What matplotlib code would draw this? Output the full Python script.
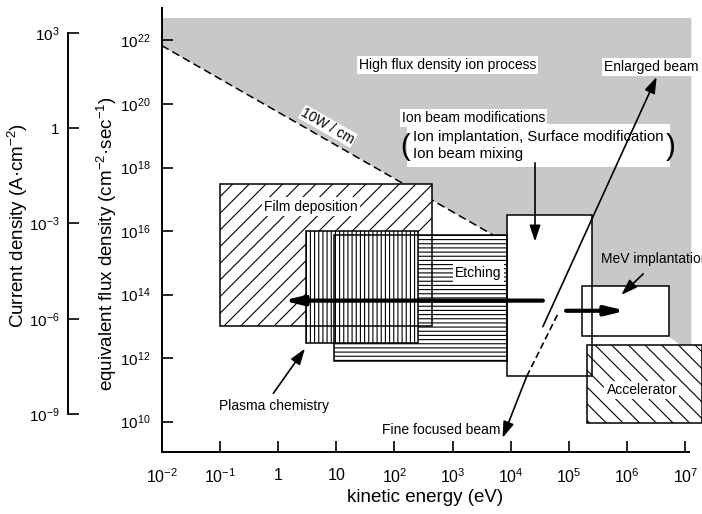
import numpy as np
import matplotlib
matplotlib.use('Agg')
import matplotlib.pyplot as plt
from matplotlib.patches import Rectangle
from matplotlib.ticker import NullLocator

plt.rcParams['font.family'] = ['Liberation Sans', 'DejaVu Sans']
plt.rcParams['mathtext.fontset'] = 'custom'
plt.rcParams['mathtext.rm'] = 'Liberation Sans'
plt.rcParams['mathtext.it'] = 'Liberation Sans:italic'
plt.rcParams['mathtext.bf'] = 'Liberation Sans:bold'
plt.rcParams['hatch.linewidth'] = 0.8

# ---- axes ----
energy_ticks = [1e-2, 1e-1, 1, 10, 1e2, 1e3, 1e4, 1e5, 1e6, 1e7]
energy_labels = [r'$10^{-2}$', r'$10^{-1}$', r'$1$', r'$10$', r'$10^{2}$',
                 r'$10^{3}$', r'$10^{4}$', r'$10^{5}$', r'$10^{6}$', r'$10^{7}$']
flux_ticks = [1e10, 1e12, 1e14, 1e16, 1e18, 1e20, 1e22]
flux_labels = [r'$10^{10}$', r'$10^{12}$', r'$10^{14}$', r'$10^{16}$',
               r'$10^{18}$', r'$10^{20}$', r'$10^{22}$']
current_ticks = [1e3, 1, 1e-3, 1e-6, 1e-9]
current_labels = [r'$10^{3}$', r'$1$', r'$10^{-3}$', r'$10^{-6}$', r'$10^{-9}$']
flux_per_amp = 10**19.24   # flux equivalent of 1 A/cm2 on the drawing

# ---- process regions (energy range, flux range) ----
region_names = ['Film deposition', 'Plasma chemistry', 'Etching',
                'Ion beam modifications', 'MeV implantation', 'Accelerator']
region_e_lo = [0.102, 3.0, 9.2, 8.5e3, 1.7e5, 2.0e5]
region_e_hi = [437, 251, 8.5e3, 2.5e5, 5.2e6, 1.9e7]
region_f_lo = [1.05e13, 2.95e12, 8.3e11, 2.7e11, 4.8e12, 9.3e9]
region_f_hi = [3.0e17, 1.0e16, 7.6e15, 3.1e16, 1.86e14, 2.6e12]
region_hatch = ['//', '||||', '----', None, None, '\\\\']
draw_order = [0, 2, 1, 3, 4, 5]

# high flux density region (grey) and 10 W/cm limit
grey_e = [1e-2, 1e-2, 1.26e7, 1.26e7, 8.1e6, 5.2e6, 5.2e6, 8.5e3, 8.5e3, 4.9e3]
grey_f = [6.9e21, 5.1e22, 5.1e22, 2.6e12, 2.6e12, 4.8e12, 1.86e14, 1.86e14, 7.6e15, 7.6e15]
limit_e = [1e-2, 4.9e3]
limit_f = [6.9e21, 7.6e15]

# arrows: (tail energy, tail flux, head energy, head flux)
thick_arrows = [(3.55e4, 6.46e13, 1.21, 6.46e13),
                (8.9e4, 3.1e13, 9.5e5, 3.1e13)]
thin_arrows = [(3.55e4, 9.8e12, 3.2e6, 7.1e20),     # enlarged beam
               (1.86e4, 2.6e11, 7.2e3, 3.1e9),      # fine focused beam
               (2.6e4, 1.4e18, 2.6e4, 4.7e15),      # ion beam modifications
               (1.88e6, 4.5e14, 7.9e5, 9.8e13),     # MeV implantation
               (0.83, 7.8e10, 2.9, 2.0e12)]         # plasma chemistry
fine_dash_e = [6.3e4, 1.86e4]
fine_dash_f = [2.3e13, 2.6e11]

fig = plt.figure(figsize=(7.02, 5.14), dpi=100)
ax = fig.add_axes([0.2303, 0.1212, 0.7511, 0.8632])
ax.set_xscale('log')
ax.set_yscale('log')
ax.set_xlim(1e-2, 10**7.06)
ax.set_ylim(10**9.055, 10**23.02)

ax.fill(grey_e, grey_f, color='#c8c8c8', lw=0, zorder=1, clip_on=False)
ax.plot(limit_e, limit_f, color='black', lw=1.1, linestyle=(0, (5.2, 2.8)), zorder=2)

for k, i in enumerate(draw_order):
    w = region_e_hi[i] - region_e_lo[i]
    h = region_f_hi[i] - region_f_lo[i]
    ax.add_patch(Rectangle((region_e_lo[i], region_f_lo[i]), w, h,
                           facecolor='white', edgecolor='black', lw=0,
                           hatch=region_hatch[i], zorder=3 + 0.01 * k, clip_on=False))
for i in range(len(region_names)):
    w = region_e_hi[i] - region_e_lo[i]
    h = region_f_hi[i] - region_f_lo[i]
    ax.add_patch(Rectangle((region_e_lo[i], region_f_lo[i]), w, h,
                           fill=False, edgecolor='black', lw=1.1, zorder=4, clip_on=False))

# labels
fs = 10
wbox = dict(facecolor='white', edgecolor='none', boxstyle='square,pad=0.15')
ax.text(24.4, 1.7e21, 'High flux density ion process', fontsize=fs, va='center', bbox=wbox, zorder=6)
ax.text(4.0e5, 1.5e21, 'Enlarged beam', fontsize=fs, va='center', bbox=wbox, zorder=6)
ax.text(133, 3.6e19, 'Ion beam modifications', fontsize=fs, va='center', bbox=wbox, zorder=6)
ax.text(208, 4.9e18, 'Ion implantation, Surface modification\nIon beam mixing', fontsize=10.8,
        va='center', linespacing=1.2,
        bbox=dict(facecolor='white', edgecolor='none', boxstyle='square,pad=0.4'), zorder=6)
ax.text(151, 4.4e18, '(', fontsize=21, va='center', ha='center', zorder=7)
ax.text(5.6e6, 4.4e18, ')', fontsize=21, va='center', ha='center', zorder=7)
ax.text(0.575, 5.9e16, 'Film deposition', fontsize=fs, va='center', bbox=wbox, zorder=6)
ax.text(1.1e3, 4.9e14, 'Etching', fontsize=fs, va='center', bbox=wbox, zorder=6)
ax.text(3.6e5, 1.3e15, 'MeV implantation', fontsize=fs, va='center', zorder=6, clip_on=False)
ax.text(4.4e5, 1e11, 'Accelerator', fontsize=fs, va='center', bbox=wbox, zorder=6)
ax.text(0.098, 3.1e10, 'Plasma chemistry', fontsize=fs, va='center', zorder=6)
ax.text(60, 5.5e9, 'Fine focused beam', fontsize=fs, va='center', zorder=6)

p0 = ax.transData.transform((limit_e[0], limit_f[0]))
p1 = ax.transData.transform((limit_e[1], limit_f[1]))
angle = np.degrees(np.arctan2(p1[1] - p0[1], p1[0] - p0[0]))
ax.text(7.2, 2.0e19, '10W / cm', fontsize=fs, rotation=angle, rotation_mode='anchor',
        ha='center', va='center', bbox=dict(facecolor='white', edgecolor='none',
                                            boxstyle='square,pad=0.05'), zorder=6)

for e0, f0, e1, f1 in thick_arrows:
    ax.annotate('', xy=(e1, f1), xytext=(e0, f0),
                arrowprops=dict(arrowstyle='-|>,head_length=0.75,head_width=0.18',
                                color='black', lw=3, mutation_scale=15,
                                shrinkA=0, shrinkB=0), zorder=9)
for e0, f0, e1, f1 in thin_arrows:
    ax.annotate('', xy=(e1, f1), xytext=(e0, f0),
                arrowprops=dict(arrowstyle='-|>,head_length=0.65,head_width=0.22',
                                color='black', lw=1.2, mutation_scale=15,
                                shrinkA=0, shrinkB=0), zorder=9)
ax.plot(fine_dash_e, fine_dash_f, color='black', lw=1.2, linestyle=(0, (4, 2.2)), zorder=9)

# axes styling
for s in ['top', 'right']:
    ax.spines[s].set_visible(False)
for s in ['left', 'bottom']:
    ax.spines[s].set_linewidth(1.4)
ax.set_xticks(energy_ticks)
ax.set_xticklabels(energy_labels)
ax.set_yticks(flux_ticks)
ax.set_yticklabels(flux_labels)
ax.xaxis.set_minor_locator(NullLocator())
ax.yaxis.set_minor_locator(NullLocator())
ax.tick_params(axis='x', direction='in', length=8, width=1.2, labelsize=11.5, pad=11)
ax.tick_params(axis='y', direction='in', length=8, width=1.2, labelsize=11, pad=8)

ax2 = ax.twinx()
ax2.set_yscale('log')
ax2.set_ylim(10**9.055 / flux_per_amp, 10**23.02 / flux_per_amp)
for s in ['top', 'right', 'bottom']:
    ax2.spines[s].set_visible(False)
ax2.spines['left'].set_visible(True)
ax2.spines['left'].set_position(('outward', 67.5))
ax2.spines['left'].set_bounds(1e-9, 1e3)
ax2.spines['left'].set_linewidth(1.4)
ax2.yaxis.tick_left()
ax2.set_yticks(current_ticks)
ax2.set_yticklabels(current_labels)
ax2.yaxis.set_minor_locator(NullLocator())
ax2.tick_params(axis='y', direction='in', length=8, width=1.2, labelsize=11, pad=6)

fig.text(0.605, 0.033, 'kinetic energy (eV)', fontsize=13.5, ha='center', va='center')
fig.text(0.153, 0.526, r'equivalent flux density (cm$^{-2}$·sec$^{-1}$)', fontsize=13.5,
         rotation=90, ha='center', va='center')
fig.text(0.026, 0.562, r'Current density (A·cm$^{-2}$)', fontsize=13.5,
         rotation=90, ha='center', va='center')

fig.savefig('out.png', dpi=100)
